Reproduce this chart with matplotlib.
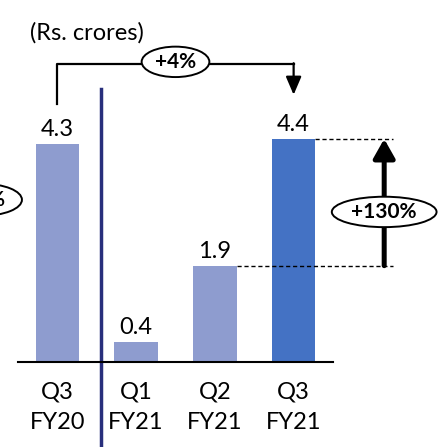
import matplotlib.pyplot as plt
from matplotlib.patches import Ellipse

plt.rcParams['font.family'] = ['Lato', 'DejaVu Sans']

# data
quarters = ["Q3\nFY20", "Q1\nFY21", "Q2\nFY21", "Q3\nFY21"]
values = [4.3, 0.4, 1.9, 4.4]
value_labels = ["4.3", "0.4", "1.9", "4.4"]
yoy_change = "+4%"
qoq_change = "+130%"

light = "#8e9ccf"
dark = "#4472c4"
navy = "#282f7c"
colors = [light, light, light, dark]

fig = plt.figure(figsize=(4.45, 4.47), dpi=100)
ax = fig.add_axes([18 / 445, 85 / 447, 315 / 445, 362 / 447])
x = list(range(len(values)))
ax.bar(x, values, width=0.55, color=colors)
ax.set_xlim(-0.5, 3.5)
ax.set_ylim(0, 7.14)

for i, v in enumerate(values):
    ax.annotate(value_labels[i], (i, v), xytext=(0, 3), textcoords="offset points",
                ha="center", va="bottom", fontsize=17)

ax.set_xticks(x)
ax.set_xticklabels(quarters, fontsize=17, linespacing=1.55)
ax.tick_params(axis="x", length=0, pad=14)
ax.set_yticks([])
for s in ["top", "left", "right"]:
    ax.spines[s].set_visible(False)
ax.spines["bottom"].set_linewidth(1.5)

# divider between FY20 and FY21
ax.plot([0.55, 0.55], [-1.7, 5.38], color=navy, lw=2.5, clip_on=False)

ax.text(0.38, 6.49, "(Rs. crores)", ha="center", va="center", fontsize=17)

# year-on-year connector
top = 5.88
ax.plot([0, 0, 3], [values[0] + 0.79, top, top], color="black", lw=1.6, clip_on=False)
ax.annotate("", xy=(3, values[3] + 0.87), xytext=(3, top + 0.013),
            arrowprops=dict(arrowstyle="-|>,head_length=1.1,head_width=0.47",
                            lw=1.6, color="black", shrinkA=0, shrinkB=0),
            annotation_clip=False)
ax.add_patch(Ellipse((1.5, 5.92), 0.86, 0.6, facecolor="white", edgecolor="black",
                     lw=1.4, clip_on=False, zorder=3))
ax.text(1.5, 5.92, yoy_change, ha="center", va="center", fontsize=15,
        fontweight="bold", zorder=4)

# quarter-on-quarter arrow
ax_x = 4.15
ax.plot([3.275, 4.26], [values[3], values[3]], color="black", lw=1, ls=(0, (3, 2)),
        clip_on=False)
ax.plot([2.275, 4.26], [values[2], values[2]], color="black", lw=1, ls=(0, (3, 2)),
        clip_on=False)
ax.annotate("", xy=(ax_x, values[3]), xytext=(ax_x, values[2]),
            arrowprops=dict(arrowstyle="-|>,head_length=1.15,head_width=0.65",
                            lw=3.6, color="black", shrinkA=0, shrinkB=0),
            annotation_clip=False)
ax.add_patch(Ellipse((ax_x, 2.96), 1.33, 0.6, facecolor="white", edgecolor="black",
                     lw=1.4, clip_on=False, zorder=3))
ax.text(ax_x, 2.96, qoq_change, ha="center", va="center", fontsize=15,
        fontweight="bold", zorder=4)

# cut-off oval on the left edge
ax.add_patch(Ellipse((-0.95, 3.2), 1.0, 0.63, facecolor="white", edgecolor="black",
                     lw=1.4, clip_on=False, zorder=3))
ax.text(-0.68, 3.2, "%", ha="right", va="center", fontsize=15, fontweight="bold",
        zorder=4)

fig.savefig("out.png", dpi=100)
